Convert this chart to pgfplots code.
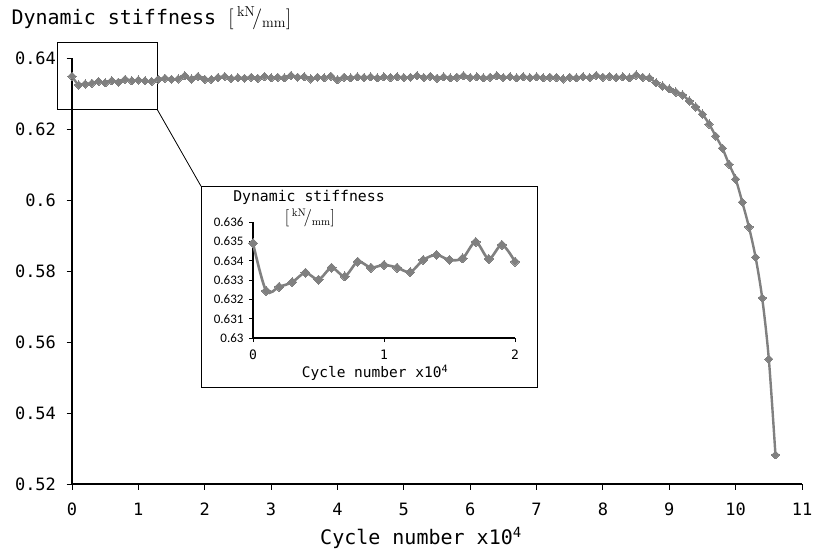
\documentclass[border=0pt]{standalone}
\usepackage[no-math]{fontspec}
\setmainfont{DejaVu Sans Mono}
\newfontfamily\carlito{Carlito}
\usepackage{pgfplots}
\usepackage{pgfplotstable}
\pgfplotsset{compat=1.18}
\definecolor{sgray}{RGB}{128,128,128}

\pgfplotstableread{
x y
0.0 0.6349
0.1 0.6324
0.2 0.6327
0.3 0.6329
0.4 0.6334
0.5 0.6330
0.6 0.6336
0.7 0.6332
0.8 0.6340
0.9 0.6336
1.0 0.6338
1.1 0.6336
1.2 0.6334
1.3 0.6340
1.4 0.6343
1.5 0.6340
1.6 0.6341
1.7 0.6350
1.8 0.6341
1.9 0.6348
2.0 0.6340
2.1 0.6340
2.2 0.6345
2.3 0.6348
2.4 0.6342
2.5 0.6345
2.6 0.6343
2.7 0.6346
2.8 0.6343
2.9 0.6348
3.0 0.6344
3.1 0.6346
3.2 0.6344
3.3 0.6351
3.4 0.6346
3.5 0.6347
3.6 0.6341
3.7 0.6346
3.8 0.6344
3.9 0.6349
4.0 0.6339
4.1 0.6346
4.2 0.6344
4.3 0.6347
4.4 0.6345
4.5 0.6347
4.6 0.6344
4.7 0.6347
4.8 0.6345
4.9 0.6347
5.0 0.6345
5.1 0.6346
5.2 0.6350
5.3 0.6345
5.4 0.6348
5.5 0.6343
5.6 0.6347
5.7 0.6344
5.8 0.6346
5.9 0.6350
6.0 0.6345
6.1 0.6347
6.2 0.6344
6.3 0.6346
6.4 0.6350
6.5 0.6345
6.6 0.6347
6.7 0.6344
6.8 0.6347
6.9 0.6345
7.0 0.6347
7.1 0.6344
7.2 0.6346
7.3 0.6345
7.4 0.6341
7.5 0.6346
7.6 0.6344
7.7 0.6347
7.8 0.6345
7.9 0.6351
8.0 0.6346
8.1 0.6348
8.2 0.6345
8.3 0.6347
8.4 0.6344
8.5 0.6352
8.6 0.6346
8.7 0.6344
8.8 0.6330
8.9 0.6321
9.0 0.6313
9.1 0.6304
9.2 0.6296
9.3 0.6279
9.4 0.6262
9.5 0.6242
9.6 0.6214
9.7 0.6180
9.8 0.6146
9.9 0.6101
10.0 0.6059
10.1 0.5994
10.2 0.5924
10.3 0.5839
10.4 0.5724
10.5 0.5552
10.6 0.5282
}\maindata

\pgfplotstableread{
x y
0.0 0.63490
0.1 0.63244
0.2 0.63265
0.3 0.63289
0.4 0.63338
0.5 0.63302
0.6 0.63364
0.7 0.63319
0.8 0.63395
0.9 0.63364
1.0 0.63378
1.1 0.63364
1.2 0.63341
1.3 0.63404
1.4 0.63430
1.5 0.63404
1.6 0.63412
1.7 0.63497
1.8 0.63409
1.9 0.63482
2.0 0.63395
}\insetdata

\begin{document}
\begin{tikzpicture}[x=1pt,y=1pt]
\useasboundingbox (-72pt,-74pt) rectangle (741pt,484pt);
\begin{axis}[
  at={(0pt,0pt)}, anchor=south west,
  scale only axis, width=730pt, height=426pt,
  xmin=0, xmax=11, ymin=0.52, ymax=0.64,
  clip=false,
  axis x line=bottom, axis y line=left,
  axis line style={-, line width=1.8pt, black},
  xtick={0,1,2,3,4,5,6,7,8,9,10,11},
  ytick={0.52,0.54,0.56,0.58,0.6,0.62,0.64},
  yticklabels={0.52,0.54,0.56,0.58,0.6,0.62,0.64},
  tick align=outside, major tick length=5.5pt,
  tick style={black, line width=0.9pt},
  /pgf/number format/assume math mode=true,
  ticklabel style={font=\fontsize{17}{20}\selectfont},
  xticklabel style={yshift=-10pt},
  yticklabel style={xshift=-7pt},
  xlabel={Cycle number x10\textsuperscript{4}},
  ylabel={Dynamic stiffness {\fontsize{21.5}{24}\selectfont$[$\,${}^{\mathrm{kN}}\!/_{\mathrm{mm}}]$}},
  every axis x label/.style={at={(axis description cs:0,0)}, anchor=center, xshift=349pt, yshift=-54pt, font=\fontsize{20}{24}\selectfont},
  every axis y label/.style={at={(axis description cs:0,1)}, anchor=west, xshift=-64pt, yshift=40pt, font=\fontsize{20}{24}\selectfont},
]
\draw[black, line width=0.8pt] (axis cs:-0.226,0.6256) rectangle (axis cs:1.281,0.6445);
\draw[black, line width=0.8pt] (axis cs:1.281,0.6256) -- (axis cs:1.944,0.6039);
\addplot[sgray, line width=2.4pt, smooth, mark=square*, mark size=2.9pt, mark options={rotate=45, fill=sgray, draw=sgray, line width=0pt}] table[x=x,y=y] {\maindata};
\end{axis}
\filldraw[fill=white, draw=black, line width=0.8pt] (129pt,97pt) rectangle (465pt,298pt);
\node[font=\fontsize{14.8}{17}\selectfont] at (237pt,287pt) {Dynamic stiffness};
\node[font=\fontsize{16}{17}\selectfont] at (238pt,266pt) {$[$\,${}^{\mathrm{kN}}\!/_{\mathrm{mm}}]$};
\begin{axis}[
  at={(181pt,146pt)}, anchor=south west,
  scale only axis, width=262pt, height=116pt,
  xmin=0, xmax=2, ymin=0.63, ymax=0.636,
  clip=false,
  axis x line=bottom, axis y line=left,
  axis line style={-, line width=1.3pt, black},
  xtick={0,1,2},
  ytick={0.63,0.631,0.632,0.633,0.634,0.635,0.636},
  yticklabels={0.63,0.631,0.632,0.633,0.634,0.635,0.636},
  tick align=outside, major tick length=4pt,
  tick style={black, line width=0.8pt},
  /pgf/number format/assume math mode=true,
  xticklabel style={font=\fontsize{13}{15}\selectfont, yshift=-4pt},
  yticklabel style={font=\carlito\fontsize{13}{15}\selectfont, xshift=-2pt},
  xlabel={Cycle number x10\textsuperscript{4}},
  every axis x label/.style={at={(axis description cs:0,0)}, anchor=center, xshift=122pt, yshift=-35pt, font=\fontsize{14.5}{17}\selectfont},
]
\addplot[sgray, line width=2.6pt, smooth, mark=square*, mark size=3.2pt, mark options={rotate=45, fill=sgray, draw=sgray, line width=0pt}] table[x=x,y=y] {\insetdata};
\end{axis}
\end{tikzpicture}
\end{document}
